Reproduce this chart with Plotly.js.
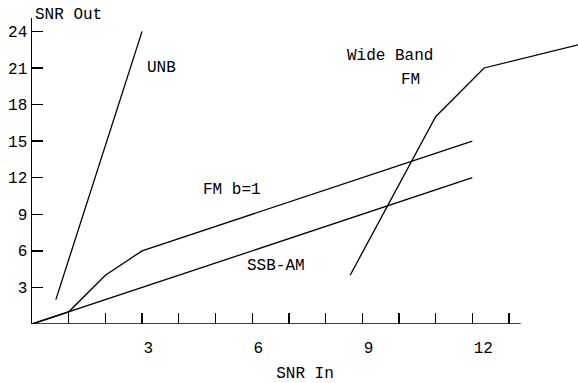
<!DOCTYPE html>
<html><head><meta charset="utf-8">
<script src="https://cdn.plot.ly/plotly-3.0.1.min.js"></script>
<style>html,body{margin:0;padding:0;background:#fff}</style>
</head><body><div id="chart" style="width:578px;height:383px"></div>
<script>
// data
const ssbX = [0, 12];
const ssbY = [0, 12];
const fmX = [0, 1, 2, 3, 12];
const fmY = [0, 1, 4, 6, 15];
const unbX = [0.65, 3];
const unbY = [2, 24];
const wbX = [8.67, 11, 12.32, 14.88];
const wbY = [4, 17, 21, 22.9];
const xTickVals = [1, 2, 3, 4, 5, 6, 7, 8, 9, 10, 11, 12, 13];
const xTickText = ["", "", "3\u00a0", "", "", "6\u00a0", "", "", "9\u00a0", "", "", "12", ""];
const yTickVals = [3, 6, 9, 12, 15, 18, 21, 24];
const yTickText = ["3", "6", "9", "12", "15", "18", "21", "24"];

const FONT = '"Courier New", "Liberation Mono", monospace';
const lineStyle = {color: '#000', width: 1.3};
const mk = (x, y, name) => ({x, y, name, type: 'scatter', mode: 'lines', line: lineStyle, hoverinfo: 'skip'});

const traces = [mk(ssbX, ssbY, 'SSB-AM'), mk(fmX, fmY, 'FM b=1'), mk(unbX, unbY, 'UNB'), mk(wbX, wbY, 'Wide Band FM')];

const ann = (text, x, y, extra) => Object.assign({text, x, y, xref: 'x', yref: 'y', showarrow: false, font: {family: FONT, size: 16, color: '#000'}}, extra || {});

const layout = {
  width: 578, height: 383,
  margin: {l: 32, r: 0, t: 18, b: 59, pad: 0},
  paper_bgcolor: '#fff', plot_bgcolor: '#fff',
  showlegend: false,
  font: {family: FONT, size: 16, color: '#000'},
  xaxis: {
    range: [0, 14.88], showgrid: false, zeroline: false, showline: false,
    tickmode: 'array', tickvals: xTickVals, ticktext: xTickText,
    ticks: 'inside', ticklen: 11, tickwidth: 1.3, tickcolor: '#000',
    ticklabelshift: 11, ticklabelstandoff: 12,
    tickfont: {family: FONT, size: 16, color: '#000'},
    title: {text: '\u00a0SNR In', font: {family: FONT, size: 16, color: '#000'}, standoff: 9},
    fixedrange: true
  },
  yaxis: {
    range: [0, 25.1], showgrid: false, zeroline: false, showline: true, linecolor: '#000', linewidth: 1.5,
    tickmode: 'array', tickvals: yTickVals, ticktext: yTickText,
    ticks: 'inside', ticklen: 11, tickwidth: 1.3, tickcolor: '#000',
    tickfont: {family: FONT, size: 16, color: '#000'},
    fixedrange: true
  },
  shapes: [{type: 'line', xref: 'x', yref: 'y', x0: 0, x1: 13.32, y0: 0, y1: 0, line: {color: '#000', width: 1.5}}],
  annotations: [
    {text: 'SNR Out', xref: 'paper', yref: 'paper', x: 0.002, y: 1.011, xanchor: 'left', yanchor: 'middle', showarrow: false, font: {family: FONT, size: 16, color: '#000'}},
    ann('UNB', 3.53, 21.0),
    ann('Wide Band', 9.76, 22.0),
    ann('FM', 10.31, 20.05),
    ann('FM b=1', 5.44, 11.0),
    ann('SSB-AM', 6.66, 4.77)
  ]
};

Plotly.newPlot('chart', traces, layout, {displayModeBar: false, staticPlot: true});
</script></body></html>
